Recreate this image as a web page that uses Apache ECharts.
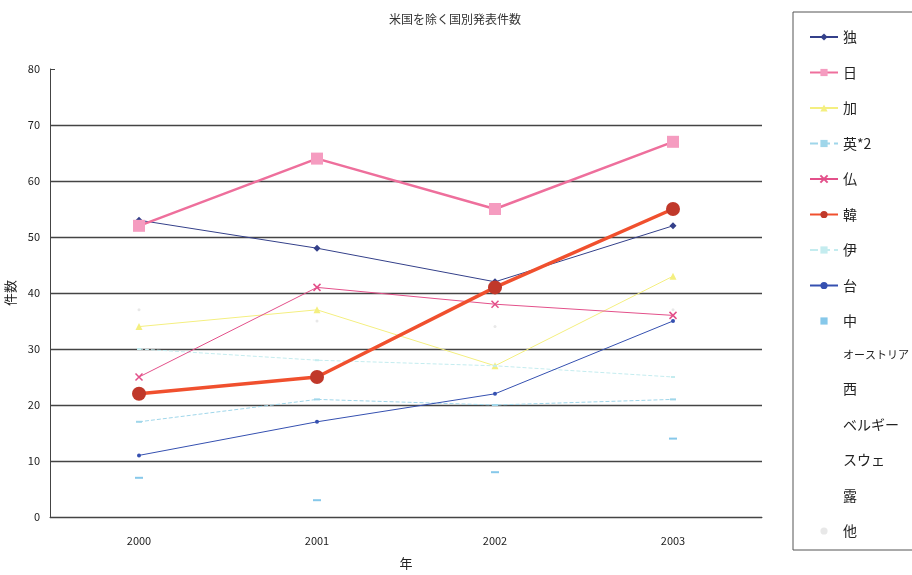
<!DOCTYPE html>
<html>
<head>
<meta charset="utf-8">
<script src="https://cdn.jsdelivr.net/npm/echarts@6/dist/echarts.min.js"></script>
<style>
  html, body { margin: 0; padding: 0; background: #fff; }
  #chart { width: 912px; height: 575px; }
</style>
</head>
<body>
<div id="chart"></div>
<script>
// 年
const years = ['2000', '2001', '2002', '2003']

// 国別件数
const doku = [53, 48, 42, 52]
const nichi = [52, 64, 55, 67]
const ka = [34, 37, 27, 43]
const ei2 = [17, 21, 20, 21]
const futsu = [25, 41, 38, 36]
const kan = [22, 25, 41, 55]
const i = [30, 28, 27, 25]
const tai = [11, 17, 22, 35]
const chu = [7, 3, 8, 14]
const austria = [5, 6, 8, 7]
const sei = [3, 4, 5, 6]
const belgium = [2, 3, 3, 4]
const sweden = [4, 2, 3, 5]
const ro = [1, 2, 2, 3]
const ta = [37, 35, 34, 37]

const yTicks = [0, 10, 20, 30, 40, 50, 60, 70, 80]

const font = '"Noto Sans CJK JP", sans-serif'
const xMark = 'path://M0,0L10,10M10,0L0,10'

function line(name, data, color, opts) {
  const o = opts || {}
  return {
    name: name,
    type: 'line',
    data: data,
    symbol: o.symbol || 'circle',
    symbolSize: o.size || 5,
    lineStyle: {
      color: color,
      width: o.width == null ? 1 : o.width,
      type: o.dash ? 'dashed' : 'solid',
      opacity: o.noLine ? 0 : 1
    },
    itemStyle: {
      color: o.markColor || color,
      borderColor: o.borderColor || o.markColor || color,
      borderWidth: o.borderWidth || 0
    },
    z: o.z || 2,
    emphasis: { disabled: true }
  }
}

const chart = echarts.init(document.getElementById('chart'))
chart.setOption({
  animation: false,
  textStyle: { fontFamily: font },
  title: {
    text: '米国を除く国別発表件数',
    left: 384,
    top: 8,
    textStyle: { fontSize: 12, fontWeight: 'normal', color: '#333', fontFamily: font }
  },
  grid: { left: 50, right: 150, top: 69, bottom: 58, outerBoundsMode: 'none' },
  legend: {
    orient: 'vertical',
    left: 804,
    top: 25,
    itemWidth: 28,
    itemHeight: 9,
    itemGap: 21.5,
    formatter: function (name) {
      return name.length > 4 ? '{s|' + name + '}' : name
    },
    textStyle: {
      fontSize: 14,
      color: '#222',
      fontFamily: font,
      rich: { s: { fontSize: 11, color: '#222', fontFamily: font } }
    }
  },
  graphic: [{
    type: 'rect',
    shape: { x: 793, y: 12, width: 140, height: 538 },
    style: { fill: 'none', stroke: '#555', lineWidth: 1 }
  }],
  xAxis: {
    type: 'category',
    data: years,
    boundaryGap: true,
    name: '年',
    nameLocation: 'middle',
    nameGap: 40,
    nameTextStyle: { fontSize: 13, color: '#222' },
    axisLine: { lineStyle: { color: '#444', width: 1 } },
    axisTick: { inside: true, length: 5, lineStyle: { color: '#444' } },
    axisLabel: { fontSize: 11, color: '#222', margin: 18 }
  },
  yAxis: {
    type: 'value',
    min: yTicks[0],
    max: yTicks[yTicks.length - 1],
    interval: 10,
    name: '件数',
    nameLocation: 'middle',
    nameRotate: 90,
    nameGap: 28,
    nameTextStyle: { fontSize: 13, color: '#222' },
    axisLine: { show: true, lineStyle: { color: '#444', width: 1 } },
    axisTick: { show: true, inside: true, length: 5, lineStyle: { color: '#444' } },
    axisLabel: { fontSize: 11, color: '#222', margin: 10 },
    splitLine: {
      lineStyle: {
        color: ['#444', '#444', '#444', '#444', '#444', '#444', '#444', '#444', 'transparent'],
        width: 1.3
      }
    }
  },
  series: [
    line('独', doku, '#34408a', { symbol: 'diamond', size: 7, z: 3 }),
    line('日', nichi, '#ee6f9c', { symbol: 'rect', size: 12, width: 2.5, markColor: '#f59cc0', z: 4 }),
    line('加', ka, '#f4ef80', { symbol: 'triangle', size: 7 }),
    line('英*2', ei2, '#9fd6ea', { symbol: 'rect', size: [6, 2], dash: true }),
    line('仏', futsu, '#e3508a', { symbol: xMark, size: 7, borderWidth: 1.5, z: 3 }),
    line('韓', kan, '#f0502e', { symbol: 'circle', size: 14, width: 3.5, markColor: '#c0382a', z: 5 }),
    line('伊', i, '#c4ecef', { symbol: 'rect', size: [4, 2], dash: true }),
    line('台', tai, '#3550b0', { symbol: 'circle', size: 4, z: 3 }),
    line('中', chu, '#86c8ea', { symbol: 'rect', size: [8, 2], noLine: true }),
    line('オーストリア', austria, '#ffffff', { symbol: 'none', noLine: true }),
    line('西', sei, '#ffffff', { symbol: 'none', noLine: true }),
    line('ベルギー', belgium, '#ffffff', { symbol: 'none', noLine: true }),
    line('スウェ', sweden, '#ffffff', { symbol: 'none', noLine: true }),
    line('露', ro, '#ffffff', { symbol: 'none', noLine: true }),
    line('他', ta, '#e8e8e8', { symbol: 'circle', size: 3, noLine: true })
  ]
})
</script>
</body>
</html>
